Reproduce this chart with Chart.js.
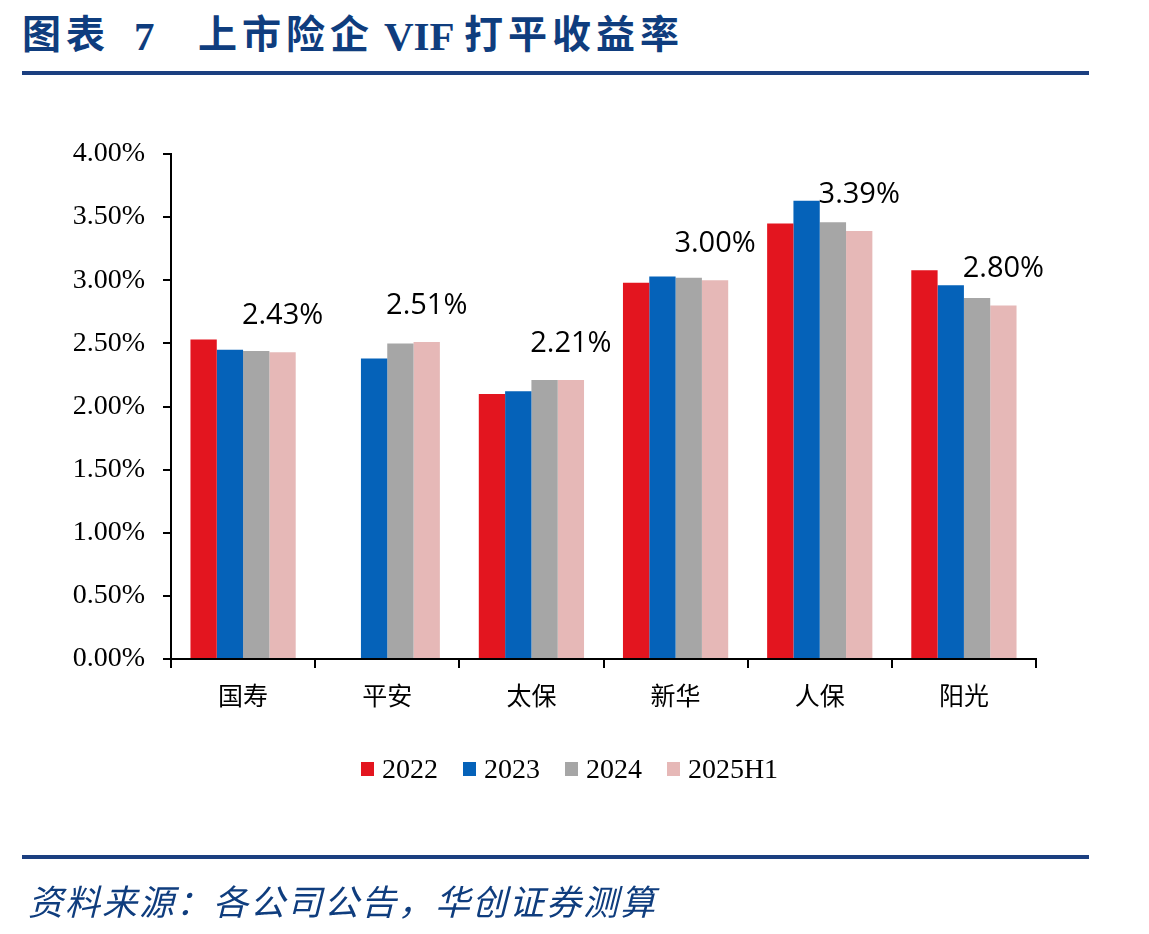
<!DOCTYPE html>
<html>
<head>
<meta charset="utf-8">
<script src="https://cdn.jsdelivr.net/npm/chart.js@4.4.1/dist/chart.umd.min.js"></script>
<style>
  html, body { margin: 0; padding: 0; background: #fff; }
  body { width: 1149px; height: 934px; position: relative; overflow: hidden; }
  .t {
    position: absolute; top: 3px;
    font-family: "Liberation Serif", "Noto Sans CJK SC", serif;
    font-weight: bold; font-size: 39px; color: #0f3d7e; white-space: pre;
  }
  .t.latin { top: 12px; font-size: 41px; }
  .cjk { letter-spacing: 5px; }
  .rule { position: absolute; left: 22px; width: 1067px; height: 4px; background: #1b3f80; }
  #source {
    position: absolute; left: 28px; top: 874px;
    font-family: "Noto Sans CJK SC", sans-serif; font-style: italic;
    font-size: 35px; letter-spacing: 2px; color: #0f3d7e; white-space: pre;
  }
  #chart { position: absolute; left: 0; top: 0; }
  #legend {
    position: absolute; left: 0; width: 1149px; top: 753px;
    display: flex; justify-content: center; gap: 25px; padding-right: 10px; box-sizing: border-box;
    font-family: "Liberation Serif", serif; font-size: 28px; color: #000;
  }
  .item { display: flex; align-items: center; }
  .swatch { width: 13px; height: 14px; margin-right: 8px; }
</style>
</head>
<body>
<div class="t cjk" style="left:22px">图表</div>
<div class="t latin" style="left:134px">7</div>
<div class="t cjk" style="left:198px">上市险企</div>
<div class="t latin" style="left:384px">VIF</div>
<div class="t cjk" style="left:464px">打平收益率</div>
<div class="rule" style="top:71px"></div>
<canvas id="chart" width="1149" height="934"></canvas>
<div id="legend"></div>
<div class="rule" style="top:855px"></div>
<div id="source">资料来源：各公司公告，华创证券测算</div>
<script>
/* ─────────────────────────────────────────────
   Data
───────────────────────────────────────────── */
const companies = ['国寿', '平安', '太保', '新华', '人保', '阳光'];
const seriesNames = ['2022', '2023', '2024', '2025H1'];

const vif2022 = [2.53, null, 2.10, 2.98, 3.45, 3.08];
const vif2023 = [2.45, 2.38, 2.12, 3.03, 3.63, 2.96];
const vif2024 = [2.44, 2.50, 2.21, 3.02, 3.46, 2.86];
const vif2025H1 = [2.43, 2.51, 2.21, 3.00, 3.39, 2.80];

const yTicks = [0, 0.5, 1, 1.5, 2, 2.5, 3, 3.5, 4];

const seriesColors = ['#E3151F', '#0562B9', '#A6A6A6', '#E6B8B7'];
const tickFont = { family: '"Liberation Serif", serif', size: 28 };
const catFont = { family: '"Noto Sans CJK SC", sans-serif', size: 25 };

/* ─────────────────────────────────────────────
   Legend (html)
───────────────────────────────────────────── */
const legendEl = document.getElementById('legend');
seriesNames.forEach((name, i) => {
  const item = document.createElement('div');
  item.className = 'item';
  item.innerHTML = `<span class="swatch" style="background:${seriesColors[i]}"></span>${name}`;
  legendEl.appendChild(item);
});

/* ─────────────────────────────────────────────
   Value labels on the latest series
───────────────────────────────────────────── */
const lastValueLabels = {
  id: 'lastValueLabels',
  afterDatasetsDraw(chart) {
    const ctx = chart.ctx;
    const meta = chart.getDatasetMeta(3);
    ctx.save();
    ctx.font = '29px "Open Sans", sans-serif';
    ctx.fillStyle = '#000';
    ctx.textAlign = 'center';
    ctx.textBaseline = 'bottom';
    meta.data.forEach((bar, i) => {
      const v = vif2025H1[i];
      if (v == null) return;
      ctx.fillText(v.toFixed(2) + '%', bar.x, bar.y - 22);
    });
    ctx.restore();
  }
};

/* ─────────────────────────────────────────────
   Chart
───────────────────────────────────────────── */
const seriesData = [vif2022, vif2023, vif2024, vif2025H1];

new Chart(document.getElementById('chart'), {
  type: 'bar',
  data: {
    labels: companies,
    datasets: seriesNames.map((name, i) => ({
      label: name,
      data: seriesData[i],
      backgroundColor: seriesColors[i],
      borderWidth: 0,
      categoryPercentage: 0.73,
      barPercentage: 1.0,
    }))
  },
  options: {
    responsive: false,
    animation: false,
    layout: { padding: { left: 0, right: 113, top: 154, bottom: 215 } },
    plugins: {
      legend: { display: false },
      tooltip: { enabled: false }
    },
    scales: {
      x: {
        grid: { drawOnChartArea: false, drawTicks: true, tickLength: 9, color: '#000', lineWidth: 2 },
        border: { color: '#000', width: 2 },
        ticks: { color: '#000', font: catFont, padding: 12 },
        afterFit: (s) => { s.height = 60; }
      },
      y: {
        min: 0,
        max: 4,
        afterBuildTicks: (s) => { s.ticks = yTicks.map(v => ({ value: v })); },
        grid: { drawOnChartArea: false, drawTicks: true, tickLength: 8, color: '#000', lineWidth: 2 },
        border: { color: '#000', width: 2 },
        ticks: {
          color: '#000',
          font: tickFont,
          padding: 18,
          callback: (v) => Number(v).toFixed(2) + '%'
        },
        afterFit: (s) => { s.width = 171; }
      }
    }
  },
  plugins: [lastValueLabels]
});
</script>
</body>
</html>
